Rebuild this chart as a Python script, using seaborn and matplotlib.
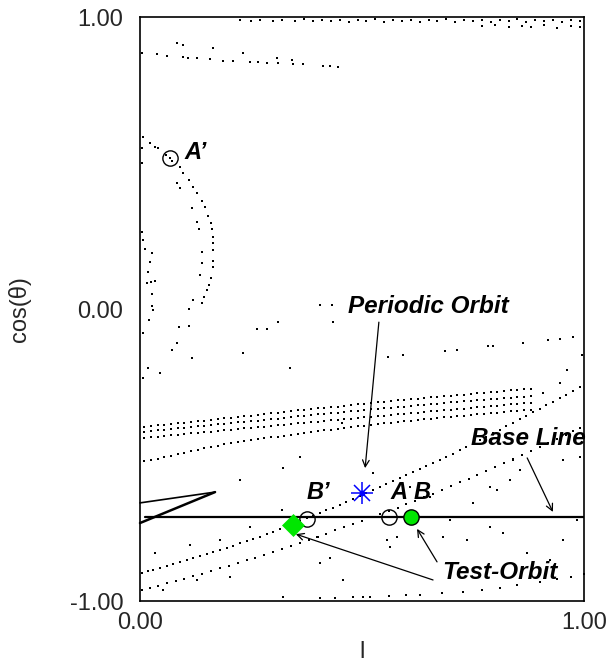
import numpy as np
import pandas as pd
import matplotlib
matplotlib.use("Agg")
import matplotlib.pyplot as plt
import seaborn as sns

# ---- surface-of-section points (l, cos(theta)) ----
top_row_x = [0.225, 0.25, 0.27, 0.30, 0.32, 0.35, 0.37, 0.39, 0.41, 0.43, 0.45, 0.47, 0.49,
             0.51, 0.53, 0.55, 0.57, 0.59, 0.61, 0.63, 0.65, 0.67, 0.69, 0.71, 0.73, 0.75,
             0.77, 0.79, 0.81, 0.83, 0.85, 0.87, 0.89, 0.91, 0.93, 0.95, 0.97, 0.99]
top_row_y = [0.990, 0.988, 0.990, 0.986, 0.990, 0.987, 0.992, 0.985, 0.990, 0.986, 0.990, 0.984,
             0.990, 0.986, 0.992, 0.984, 0.990, 0.986, 0.990, 0.983, 0.990, 0.986, 0.992, 0.984,
             0.990, 0.986, 0.990, 0.983, 0.990, 0.986, 0.992, 0.984, 0.990, 0.986, 0.990, 0.983,
             0.990, 0.986]

top_row2_x = [0.77, 0.80, 0.83, 0.86, 0.88, 0.91, 0.94, 0.97, 0.99]
top_row2_y = [0.968, 0.972, 0.965, 0.970, 0.966, 0.971, 0.964, 0.969, 0.966]

upper_band_x = [0.005, 0.038, 0.061, 0.097, 0.108, 0.128, 0.158, 0.187, 0.209, 0.248, 0.266,
                0.286, 0.311, 0.345, 0.367, 0.412, 0.428, 0.446,
                0.083, 0.097, 0.164, 0.232, 0.309, 0.342]
upper_band_y = [0.877, 0.873, 0.866, 0.863, 0.860, 0.860, 0.856, 0.849, 0.849, 0.846, 0.846,
                0.842, 0.842, 0.839, 0.839, 0.832, 0.832, 0.829,
                0.911, 0.904, 0.894, 0.877, 0.860, 0.853]

arc_outer_x = [0.007, 0.023, 0.034, 0.041, 0.059, 0.068, 0.072, 0.090, 0.097, 0.110, 0.119,
               0.128, 0.140, 0.146, 0.153, 0.160, 0.162, 0.164, 0.164, 0.164, 0.164, 0.164,
               0.160, 0.155, 0.151, 0.144, 0.140]
arc_outer_y = [0.589, 0.568, 0.555, 0.551, 0.527, 0.517, 0.507, 0.486, 0.466, 0.442, 0.418,
               0.397, 0.370, 0.349, 0.318, 0.295, 0.274, 0.247, 0.226, 0.202, 0.164, 0.144,
               0.106, 0.082, 0.065, 0.041, 0.021]

arc_inner_x = [0.083, 0.090, 0.117, 0.128, 0.133, 0.140, 0.140, 0.135, 0.119, 0.110, 0.088, 0.110]
arc_inner_y = [0.432, 0.414, 0.346, 0.298, 0.274, 0.195, 0.158, 0.116, 0.031, 0.000, -0.062, -0.058]

left_cluster_x = [0.005, 0.007, 0.011, 0.027, 0.023, 0.018, 0.016, 0.025, 0.034, 0.027, 0.027,
                  0.029, 0.020, 0.005, 0.005]
left_cluster_y = [0.264, 0.236, 0.205, 0.192, 0.161, 0.127, 0.089, 0.092, 0.096, 0.051, 0.010,
                  -0.003, -0.038, 0.551, 0.500]

mid_scatter_x = [0.405, 0.432, 0.435, 0.311, 0.286, 0.264,
                 0.007, 0.083, 0.072, 0.117, 0.232, 0.018, 0.045, 0.007, 0.338, 0.559, 0.592,
                 0.687, 0.714, 0.784, 0.795, 0.863, 0.919, 0.946, 0.975, 0.995, 0.962, 0.946,
                 0.908]
mid_scatter_y = [0.014, 0.014, -0.045, -0.045, -0.068, -0.068,
                 -0.082, -0.116, -0.140, -0.168, -0.151, -0.202, -0.219, -0.236, -0.202, -0.164,
                 -0.158, -0.144, -0.140, -0.127, -0.127, -0.116, -0.106, -0.103, -0.096, -0.158,
                 -0.209, -0.253, -0.288]

# four nearly parallel dotted strands rising to the right
fan_x = [0.01, 0.025, 0.04, 0.055, 0.07, 0.085, 0.10, 0.115, 0.13, 0.145, 0.16, 0.175, 0.19,
         0.205, 0.22, 0.235, 0.25, 0.265, 0.28, 0.295, 0.31, 0.325, 0.34, 0.355, 0.37, 0.385,
         0.40, 0.415, 0.43, 0.445, 0.46, 0.475, 0.49, 0.505, 0.52, 0.535, 0.55, 0.565, 0.58,
         0.595, 0.61, 0.625, 0.64, 0.655, 0.67, 0.685, 0.70, 0.715, 0.73, 0.745, 0.76, 0.775,
         0.79, 0.805, 0.82, 0.835, 0.85, 0.865, 0.88]
fan1_y = [-0.403, -0.401, -0.398, -0.396, -0.394, -0.392, -0.389, -0.386, -0.384, -0.382,
          -0.379, -0.376, -0.374, -0.372, -0.369, -0.367, -0.365, -0.363, -0.360, -0.357,
          -0.355, -0.353, -0.350, -0.347, -0.345, -0.343, -0.340, -0.338, -0.336, -0.334,
          -0.331, -0.328, -0.326, -0.324, -0.321, -0.319, -0.317, -0.315, -0.313, -0.311,
          -0.309, -0.307, -0.305, -0.303, -0.301, -0.299, -0.297, -0.295, -0.293, -0.291,
          -0.289, -0.287, -0.285, -0.283, -0.281, -0.279, -0.277, -0.275, -0.273]
fan2_y = [-0.420, -0.418, -0.415, -0.413, -0.411, -0.409, -0.406, -0.404, -0.402, -0.400,
          -0.397, -0.395, -0.393, -0.391, -0.388, -0.386, -0.384, -0.382, -0.379, -0.377,
          -0.375, -0.373, -0.370, -0.368, -0.366, -0.364, -0.361, -0.359, -0.357, -0.355,
          -0.352, -0.350, -0.348, -0.346, -0.344, -0.342, -0.340, -0.338, -0.336, -0.334,
          -0.332, -0.330, -0.328, -0.326, -0.324, -0.322, -0.320, -0.318, -0.316, -0.314,
          -0.312, -0.311, -0.309, -0.307, -0.305, -0.304, -0.302, -0.300, -0.298]
fan3_y = [-0.441, -0.439, -0.437, -0.435, -0.433, -0.431, -0.428, -0.426, -0.424, -0.422,
          -0.420, -0.418, -0.416, -0.414, -0.411, -0.409, -0.407, -0.405, -0.403, -0.401,
          -0.398, -0.396, -0.394, -0.392, -0.390, -0.388, -0.386, -0.384, -0.381, -0.379,
          -0.377, -0.375, -0.373, -0.371, -0.369, -0.367, -0.365, -0.363, -0.361, -0.359,
          -0.357, -0.355, -0.353, -0.351, -0.349, -0.347, -0.345, -0.343, -0.341, -0.339,
          -0.337, -0.335, -0.333, -0.331, -0.329, -0.327, -0.325, -0.323, -0.321]
fan4_y = [-0.522, -0.517, -0.512, -0.507, -0.502, -0.497, -0.492, -0.487, -0.482, -0.477,
          -0.472, -0.468, -0.464, -0.460, -0.457, -0.453, -0.450, -0.446, -0.443, -0.440,
          -0.437, -0.434, -0.431, -0.428, -0.425, -0.422, -0.419, -0.416, -0.413, -0.410,
          -0.407, -0.404, -0.402, -0.399, -0.397, -0.394, -0.392, -0.389, -0.387, -0.384,
          -0.382, -0.380, -0.378, -0.375, -0.373, -0.371, -0.369, -0.367, -0.365, -0.363,
          -0.361, -0.359, -0.357, -0.355, -0.353, -0.351, -0.349, -0.347, -0.345]

# main diagonal strand through the periodic orbit
diag1_x = [0.005, 0.018, 0.03, 0.045, 0.06, 0.075, 0.09, 0.105, 0.12, 0.135, 0.15, 0.165,
           0.18, 0.195, 0.21, 0.225, 0.24, 0.255, 0.27, 0.285, 0.30, 0.315, 0.33, 0.345,
           0.36, 0.375, 0.39, 0.405, 0.42, 0.435, 0.45, 0.465, 0.48, 0.495, 0.51, 0.525,
           0.54, 0.555, 0.57, 0.585, 0.60, 0.615, 0.63, 0.645, 0.66, 0.675, 0.69, 0.705,
           0.72, 0.735, 0.75, 0.765, 0.78, 0.795, 0.81, 0.825, 0.84, 0.855, 0.87, 0.885,
           0.90, 0.915, 0.93, 0.945, 0.96, 0.975, 0.99]
diag1_y = [-0.904, -0.898, -0.893, -0.886, -0.880, -0.873, -0.866, -0.859, -0.853, -0.846,
           -0.839, -0.832, -0.825, -0.818, -0.811, -0.803, -0.796, -0.788, -0.781, -0.772,
           -0.764, -0.755, -0.746, -0.736, -0.726, -0.717, -0.708, -0.699, -0.690, -0.680,
           -0.670, -0.660, -0.650, -0.640, -0.630, -0.620, -0.610, -0.600, -0.590, -0.580,
           -0.570, -0.559, -0.549, -0.538, -0.528, -0.517, -0.506, -0.495, -0.484, -0.472,
           -0.461, -0.449, -0.438, -0.426, -0.414, -0.402, -0.390, -0.378, -0.366, -0.354,
           -0.342, -0.330, -0.318, -0.306, -0.294, -0.281, -0.268]

# second diagonal strand below it
diag2_x = [0.005, 0.022, 0.04, 0.06, 0.08, 0.10, 0.12, 0.14, 0.16, 0.18, 0.20, 0.22, 0.24,
           0.26, 0.28, 0.30, 0.32, 0.34, 0.36, 0.38, 0.40, 0.42, 0.44, 0.46, 0.48, 0.50,
           0.52, 0.54, 0.56, 0.58, 0.60, 0.62, 0.64, 0.66, 0.68, 0.70, 0.72, 0.74, 0.76,
           0.78, 0.80, 0.82, 0.84, 0.86, 0.88, 0.90, 0.92, 0.94, 0.96, 0.975, 0.99]
diag2_y = [-0.962, -0.955, -0.948, -0.940, -0.932, -0.924, -0.915, -0.906, -0.897, -0.888,
           -0.879, -0.870, -0.861, -0.852, -0.842, -0.832, -0.822, -0.812, -0.802, -0.791,
           -0.780, -0.769, -0.758, -0.747, -0.736, -0.725, -0.714, -0.703, -0.691, -0.680,
           -0.668, -0.656, -0.644, -0.632, -0.620, -0.607, -0.594, -0.581, -0.568, -0.555,
           -0.542, -0.529, -0.515, -0.501, -0.487, -0.473, -0.459, -0.445, -0.430, -0.419,
           -0.408]

bottom_x = [0.405, 0.44, 0.48, 0.518, 0.56, 0.60, 0.631, 0.68, 0.727, 0.77, 0.811, 0.85,
            0.901, 0.94, 0.97, 1.0]
bottom_y = [-0.990, -0.989, -0.987, -0.986, -0.983, -0.981, -0.979, -0.974, -0.969, -0.962,
            -0.955, -0.946, -0.935, -0.925, -0.917, -0.908]

low_scatter_x = [0.320, 0.248, 0.180, 0.113, 0.034, 0.399, 0.428, 0.405, 0.556, 0.563, 0.579,
                 0.682, 0.736, 0.788, 0.818, 0.872, 0.923, 0.953, 0.984, 0.788, 0.804, 0.833,
                 0.856, 0.840, 0.953, 0.991, 0.750, 0.698, 0.653, 0.225, 0.322, 0.360, 0.525,
                 0.455, 0.608, 0.457, 0.203, 0.128, 0.052, 0.322, 0.502]
low_scatter_y = [-0.688, -0.747, -0.791, -0.808, -0.836, -0.781, -0.853, -0.870, -0.791, -0.815,
                 -0.781, -0.781, -0.791, -0.747, -0.767, -0.836, -0.860, -0.791, -0.723, -0.610,
                 -0.620, -0.586, -0.551, -0.517, -0.517, -0.507, -0.664, -0.723, -0.644, -0.586,
                 -0.545, -0.507, -0.562, -0.390, -0.610, -0.928, -0.918, -0.928, -0.962, -0.986,
                 -0.986]

# ---- special points ----
periodic_orbit = (0.500, -0.630)
open_points_x = [0.068, 0.376, 0.561]      # A', B', A
open_points_y = [0.517, -0.719, -0.712]
test_orbit_circle = (0.610, -0.712)        # B
test_orbit_diamond = (0.345, -0.740)
base_line_y = -0.712
base_line_x = [0.011, 1.0]
wedge_x = [0.0, 0.169, 0.0]
wedge_y = [-0.664, -0.627, -0.733]

x_ticks = [0.0, 1.0]
x_ticklabels = ["0.00", "1.00"]
y_ticks = [-1.0, 0.0, 1.0]
y_ticklabels = ["-1.00", "0.00", "1.00"]

# ---- assemble the point cloud ----
xs, ys = [], []
for px, py in [(top_row_x, top_row_y), (top_row2_x, top_row2_y), (upper_band_x, upper_band_y),
               (arc_outer_x, arc_outer_y), (arc_inner_x, arc_inner_y),
               (left_cluster_x, left_cluster_y), (mid_scatter_x, mid_scatter_y),
               (fan_x, fan1_y), (fan_x, fan2_y), (fan_x, fan3_y), (fan_x, fan4_y),
               (diag1_x, diag1_y), (diag2_x, diag2_y), (bottom_x, bottom_y),
               (low_scatter_x, low_scatter_y)]:
    xs.extend(px)
    ys.extend(py)
cloud = pd.DataFrame({"l": xs, "cos_theta": ys})

sns.set_style("white")
plt.rcParams["font.family"] = ["Liberation Sans", "DejaVu Sans"]

fig = plt.figure(figsize=(6.08, 6.64), dpi=100)
ax = fig.add_axes([140 / 608, 63 / 664, 444 / 608, 584 / 664])

sns.scatterplot(data=cloud, x="l", y="cos_theta", ax=ax, s=3, marker="s",
                color="black", linewidth=0, legend=False)

# base line and wedge
ax.plot(base_line_x, [base_line_y, base_line_y], color="black", lw=1.6, zorder=3)
ax.plot(wedge_x[:2], wedge_y[:2], color="black", lw=1.2, zorder=3, clip_on=False)
ax.plot(wedge_x[1:], wedge_y[1:], color="black", lw=1.8, zorder=3, clip_on=False)

# open circles
ax.plot(open_points_x, open_points_y, linestyle="none", marker="o", ms=11,
        mfc="none", mec="black", mew=1.0, zorder=4)
# test orbit points
ax.plot([test_orbit_circle[0]], [test_orbit_circle[1]], marker="o", ms=11,
        mfc="#00e600", mec="black", mew=1.0, zorder=5)
ax.plot([test_orbit_diamond[0]], [test_orbit_diamond[1]], marker="D", ms=11,
        mfc="#00e600", mec="#00e600", mew=0.5, zorder=5)
# periodic orbit (eight-armed asterisk)
ax.plot([periodic_orbit[0]], [periodic_orbit[1]], marker="+", ms=16, mec="blue", mew=1.1, zorder=5)
ax.plot([periodic_orbit[0]], [periodic_orbit[1]], marker="x", ms=11.5, mec="blue", mew=1.1, zorder=5)
ax.plot([periodic_orbit[0]], [periodic_orbit[1]], marker="o", ms=3, mfc="blue", mec="blue", zorder=6)

lab = dict(fontweight="bold", fontstyle="italic", color="black")
ax.text(0.101, 0.536, "A\u2019", fontsize=17, ha="left", va="center", **lab)
ax.text(0.401, -0.627, "B\u2019", fontsize=17, ha="center", va="center", **lab)
ax.text(0.584, -0.627, "A", fontsize=17, ha="center", va="center", **lab)
ax.text(0.635, -0.627, "B", fontsize=17, ha="center", va="center", **lab)
ax.text(0.649, 0.007, "Periodic Orbit", fontsize=17.5, ha="center", va="center", **lab)
ax.text(0.874, -0.445, "Base Line", fontsize=17.5, ha="center", va="center", **lab)
ax.text(0.810, -0.901, "Test-Orbit", fontsize=17.5, ha="center", va="center", **lab)

arrow = dict(arrowstyle="->", color="black", lw=0.9, shrinkA=0, shrinkB=0,
             mutation_scale=12)
ax.annotate("", xy=(0.507, -0.545), xytext=(0.538, -0.045), arrowprops=arrow)
ax.annotate("", xy=(0.930, -0.695), xytext=(0.872, -0.510), arrowprops=arrow)
ax.annotate("", xy=(0.351, -0.771), xytext=(0.660, -0.928), arrowprops=arrow)
ax.annotate("", xy=(0.624, -0.753), xytext=(0.669, -0.866), arrowprops=arrow)

ax.set_xlim(0, 1)
ax.set_ylim(-1, 1)
ax.set_xticks(x_ticks)
ax.set_xticklabels(x_ticklabels)
ax.set_yticks(y_ticks)
ax.set_yticklabels(y_ticklabels)
ax.tick_params(axis="both", length=0, labelsize=17, pad=8)
ax.tick_params(axis="y", pad=12)
for sp in ax.spines.values():
    sp.set_color("black")
    sp.set_linewidth(1.2)

ax.set_xlabel("l", fontsize=17)
ax.set_ylabel("cos(\u03b8)", fontsize=17)
ax.xaxis.set_label_coords(0.5, -0.068)
ax.yaxis.set_label_coords(-0.245, 0.5)

fig.savefig("out.png", dpi=100)
